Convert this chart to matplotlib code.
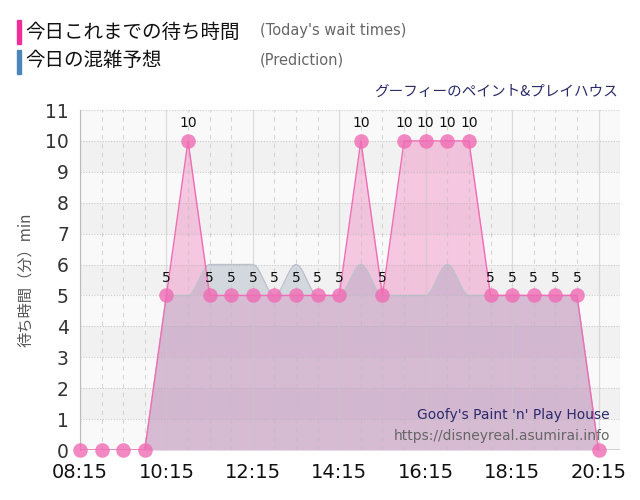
import matplotlib.pyplot as plt
import numpy as np

plt.rcParams['font.family'] = ['DejaVu Sans', 'Noto Sans CJK JP']

# 30-minute slots from 08:15 to 20:15
times = ["08:15", "08:45", "09:15", "09:45", "10:15", "10:45", "11:15", "11:45",
         "12:15", "12:45", "13:15", "13:45", "14:15", "14:45", "15:15", "15:45",
         "16:15", "16:45", "17:15", "17:45", "18:15", "18:45", "19:15", "19:45",
         "20:15"]
wait_today = [0, 0, 0, 0, 5, 10, 5, 5, 5, 5, 5, 5, 5, 10, 5, 10, 10, 10, 10,
              5, 5, 5, 5, 5, 0]
# prediction goes one slot further (20:45)
pred_times = times + ["20:45"]
wait_pred = [0, 0, 0, 0, 5, 5, 6, 6, 6, 5, 6, 5, 5, 6, 5, 5, 5, 6, 5,
             5, 5, 5, 5, 5, 0, 0]
xtick_labels = ["08:15", "10:15", "12:15", "14:15", "16:15", "18:15", "20:15"]


def to_min(t):
    h, m = t.split(":")
    return int(h) * 60 + int(m)


x = np.array([to_min(t) for t in times])
xp = np.array([to_min(t) for t in pred_times])
y = np.array(wait_today)
yp = np.array(wait_pred, dtype=float)

# smoothed prediction curve through the points
xs = []
ys = []
for i in range(len(xp) - 1):
    x0, x1 = xp[i], xp[i + 1]
    y0, y1 = yp[i], yp[i + 1]
    tt = np.linspace(0, 1, 12, endpoint=False)
    if y0 == 0 or y1 == 0:
        s = tt
    else:
        s = tt * tt * (3 - 2 * tt)
    xs.extend(x0 + (x1 - x0) * tt)
    ys.extend(y0 + (y1 - y0) * s)
xs.append(xp[-1])
ys.append(yp[-1])

fig = plt.figure(figsize=(6.4, 5), dpi=100)
ax = fig.add_axes([0.125, 0.1, 0.844, 0.68])

x0 = to_min("08:15")
x1 = to_min("20:45")
ax.set_xlim(x0, x1)
ax.set_ylim(0, 11)

# alternating background bands
for k in range(11):
    c = "#f1f1f1" if k % 2 == 1 else "#f9f9f9"
    ax.axhspan(k, k + 1, color=c, zorder=0, lw=0)

# fills: pink first, prediction tint over it
ax.fill_between(x, y, color="#f06cb4", alpha=0.35, zorder=2, lw=0)
ax.fill_between(xs, ys, color="#90a0b8", alpha=0.3, zorder=3, lw=0)
ax.plot(xs, ys, color="#bcc2cc", lw=1, zorder=3)

for k in range(1, 12):
    ax.axhline(k, color="#b0b0b0", alpha=0.6, lw=0.8, ls=(0, (1, 1.5)), zorder=4)
for t in range(x0, x1, 30):
    if (t - x0) % 120 == 0:
        ax.axvline(t, color="#c8c8c8", alpha=0.6, lw=0.9, zorder=4)
    else:
        ax.axvline(t, color="#c0c0c0", alpha=0.6, lw=0.8, ls=(0, (4, 4)), zorder=4)

ax.plot(x, y, color="#f06cb4", lw=1, zorder=5)
ax.scatter(x, y, s=110, color="#f06cb4", alpha=0.8, zorder=6, lw=0, clip_on=False)

for xi, yi in zip(x, y):
    if yi > 0:
        ax.text(xi, yi + 0.35, str(yi), ha="center", va="bottom", fontsize=10,
                color="#111111", zorder=7)

ax.set_yticks(range(12))
ax.set_xticks([to_min(t) for t in xtick_labels])
ax.set_xticklabels(xtick_labels)
ax.tick_params(axis="y", labelsize=13.5, colors="#333333", length=0, pad=8)
ax.tick_params(axis="x", labelsize=14, colors="#111111", length=0, pad=9)
for sp in ["top", "right", "bottom"]:
    ax.spines[sp].set_visible(False)
ax.spines["left"].set_color("#aaaaaa")

ax.set_ylabel("待ち時間（分）min", fontsize=11, color="#555555",
              family=["Noto Sans CJK JP", "DejaVu Sans"], labelpad=8)

# legend block at the top
fig.patches.append(plt.Rectangle((17 / 640, 1 - 44 / 500), 4 / 640, 24 / 500,
                                 transform=fig.transFigure, color="#f0309a"))
fig.patches.append(plt.Rectangle((17 / 640, 1 - 74 / 500), 4 / 640, 24 / 500,
                                 transform=fig.transFigure, color="#4a86b8"))
fig.text(25 / 640, 1 - 32 / 500, "今日これまでの待ち時間", fontsize=14, va="center",
         family=["Noto Sans CJK JP", "DejaVu Sans"], color="#111111")
fig.text(25 / 640, 1 - 61 / 500, "今日の混雑予想", fontsize=14, va="center",
         family=["Noto Sans CJK JP", "DejaVu Sans"], color="#111111")
fig.text(260 / 640, 1 - 31 / 500, "(Today's wait times)", fontsize=10.5, va="center",
         color="#666666")
fig.text(260 / 640, 1 - 60 / 500, "(Prediction)", fontsize=10.5, va="center",
         color="#666666")
fig.text(618 / 640, 1 - 92 / 500, "グーフィーのペイント&プレイハウス", fontsize=10.5,
         ha="right", va="center", color="#2b2b6b",
         family=["Noto Sans CJK JP", "DejaVu Sans"])

fig.text(610 / 640, 1 - 415 / 500, "Goofy's Paint 'n' Play House", fontsize=10,
         ha="right", va="center", color="#2b2b6b")
fig.text(610 / 640, 1 - 436 / 500, "https://disneyreal.asumirai.info", fontsize=10,
         ha="right", va="center", color="#666666")

fig.savefig("out.png", dpi=100)
